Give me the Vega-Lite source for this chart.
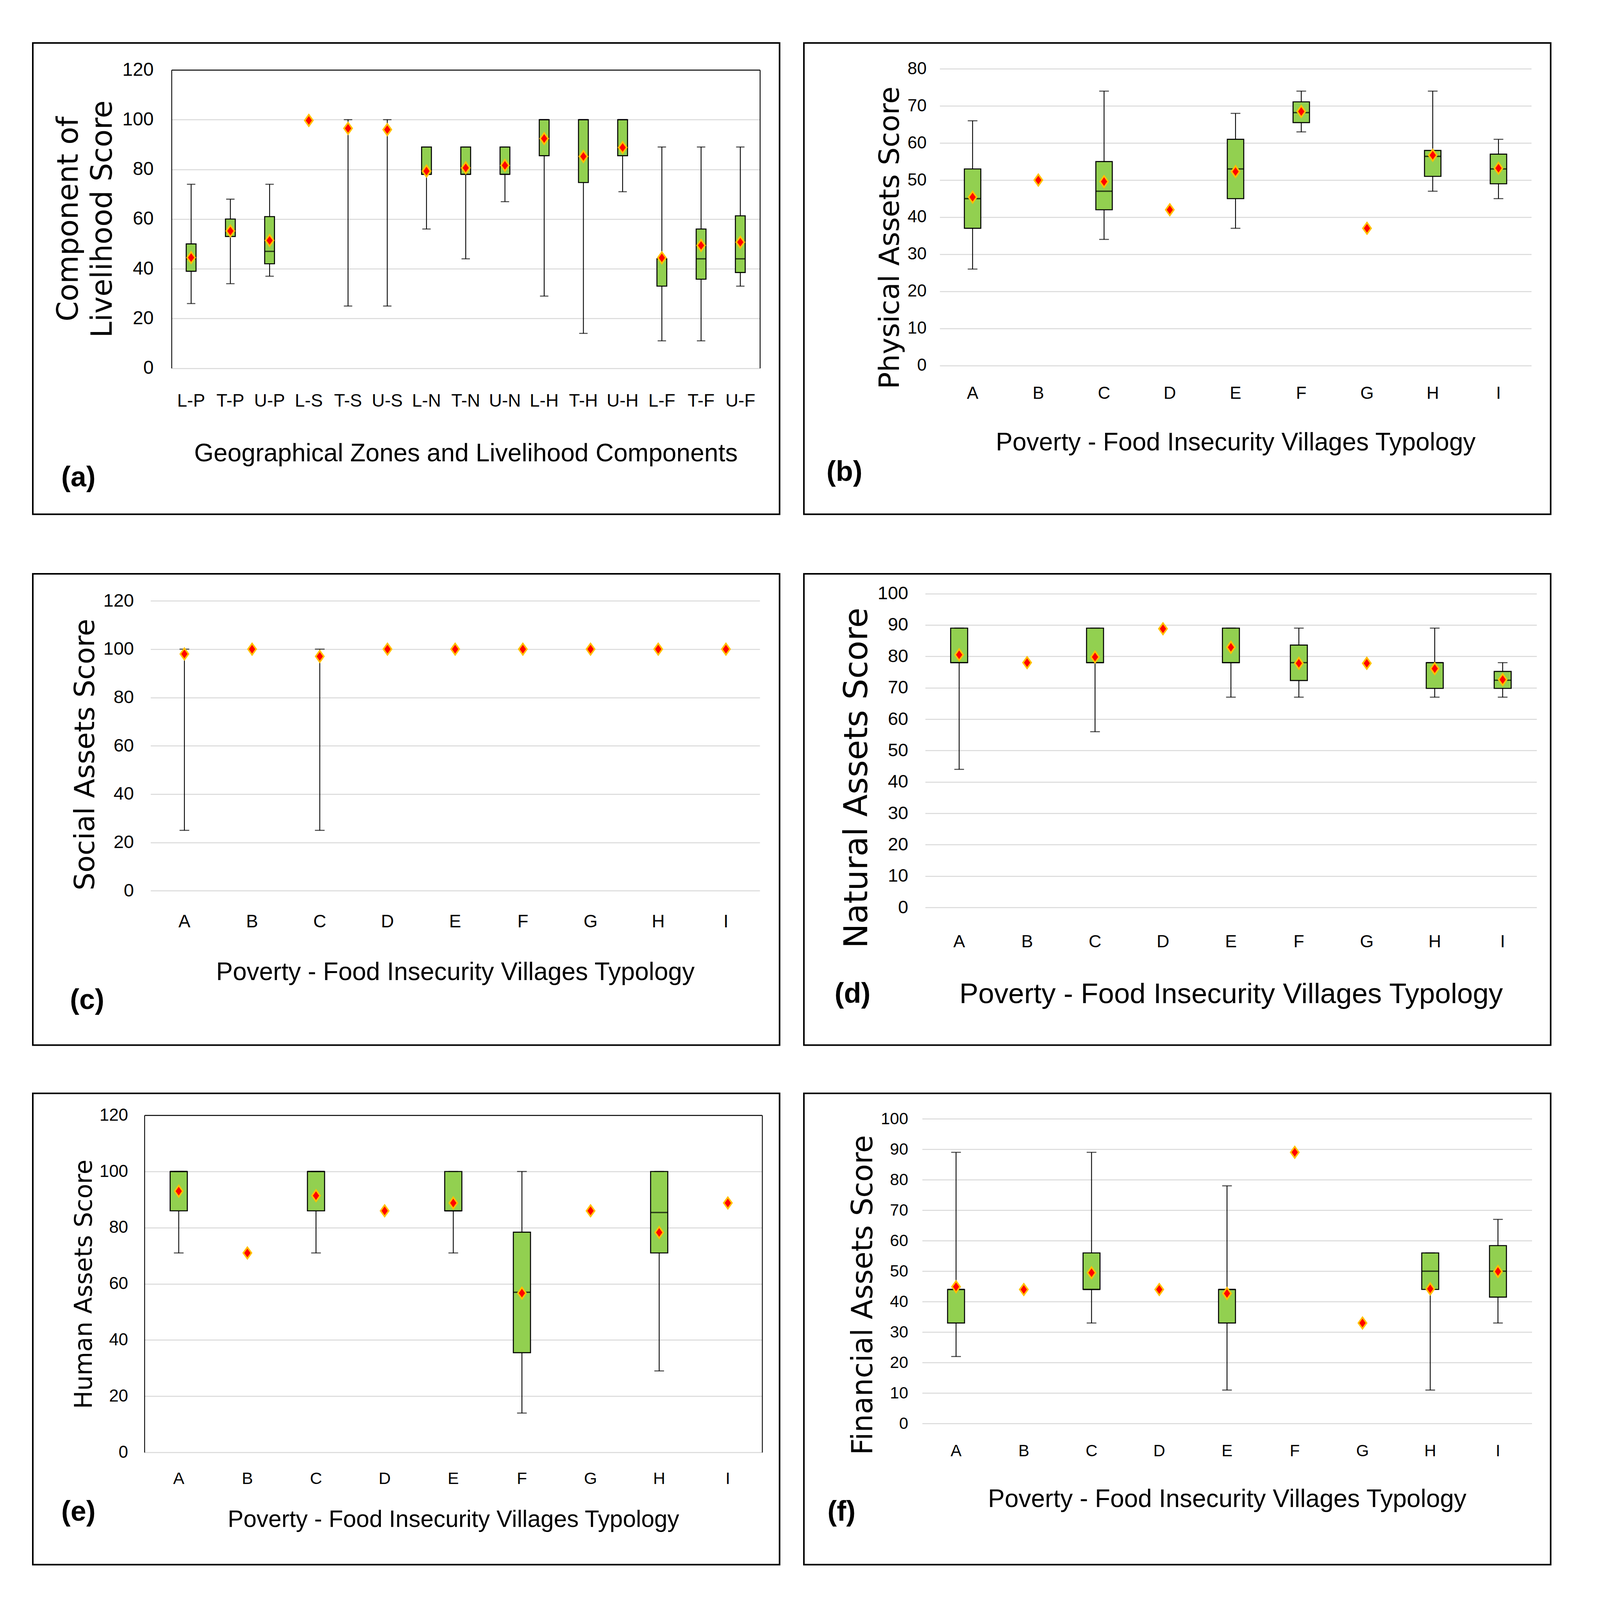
{
"$schema": "https://vega.github.io/schema/vega-lite/v6.json",
"background": "white",
"padding": {"left": 82, "top": 108, "right": 0, "bottom": 0},
"config": {
 "view": {"stroke": "black", "strokeWidth": 4},
 "axis": {"ticks": false, "tickSize": 0, "labelColor": "black", "titleColor": "black", "titleFontWeight": "normal", "gridColor": "#D9D9D9", "gridWidth": 2.6, "domain": false},
 "axisX": {"labelAngle": 0, "labelFont": "Liberation Sans", "titleFont": "Liberation Sans", "grid": false},
 "axisY": {"labelFont": "Liberation Sans", "titleFont": "DejaVu Sans"}
},
"datasets": {
 "a": [
  {"cat":"L-P","min":26,"q1":39,"median":44,"q3":50,"max":74,"mean":44.5},
  {"cat":"T-P","min":34,"q1":53,"median":55,"q3":60,"max":68,"mean":55.2},
  {"cat":"U-P","min":37,"q1":42,"median":47,"q3":61,"max":74,"mean":51.4},
  {"cat":"L-S","min":null,"q1":null,"median":null,"q3":null,"max":null,"mean":99.7},
  {"cat":"T-S","min":25,"q1":null,"median":null,"q3":null,"max":100,"mean":96.5},
  {"cat":"U-S","min":25,"q1":null,"median":null,"q3":null,"max":100,"mean":96},
  {"cat":"L-N","min":56,"q1":78,"median":78,"q3":89,"max":89,"mean":79.3},
  {"cat":"T-N","min":44,"q1":78,"median":78,"q3":89,"max":89,"mean":80.6},
  {"cat":"U-N","min":67,"q1":78,"median":78,"q3":89,"max":89,"mean":81.6},
  {"cat":"L-H","min":29,"q1":85.5,"median":100,"q3":100,"max":100,"mean":92.4},
  {"cat":"T-H","min":14,"q1":74.7,"median":100,"q3":100,"max":100,"mean":85.2},
  {"cat":"U-H","min":71,"q1":85.5,"median":100,"q3":100,"max":100,"mean":88.8},
  {"cat":"L-F","min":11,"q1":33,"median":44,"q3":44,"max":89,"mean":44.4},
  {"cat":"T-F","min":11,"q1":35.8,"median":44,"q3":56,"max":89,"mean":49.4},
  {"cat":"U-F","min":33,"q1":38.5,"median":44,"q3":61.3,"max":89,"mean":50.7}
 ],
 "b": [
  {"cat":"A","min":26,"q1":37,"median":45,"q3":53,"max":66,"mean":45.4},
  {"cat":"B","min":null,"q1":null,"median":null,"q3":null,"max":null,"mean":50},
  {"cat":"C","min":34,"q1":42,"median":47,"q3":55,"max":74,"mean":49.6},
  {"cat":"D","min":null,"q1":null,"median":null,"q3":null,"max":null,"mean":42},
  {"cat":"E","min":37,"q1":45,"median":53,"q3":61,"max":68,"mean":52.3},
  {"cat":"F","min":63,"q1":65.5,"median":68.2,"q3":71.1,"max":74,"mean":68.5},
  {"cat":"G","min":null,"q1":null,"median":null,"q3":null,"max":null,"mean":37},
  {"cat":"H","min":47,"q1":51,"median":56.4,"q3":58,"max":74,"mean":56.7},
  {"cat":"I","min":45,"q1":49,"median":53,"q3":57,"max":61,"mean":53.2}
 ],
 "c": [
  {"cat":"A","min":25,"q1":null,"median":null,"q3":null,"max":100,"mean":98},
  {"cat":"B","min":null,"q1":null,"median":null,"q3":null,"max":null,"mean":100},
  {"cat":"C","min":25,"q1":null,"median":null,"q3":null,"max":100,"mean":97},
  {"cat":"D","min":null,"q1":null,"median":null,"q3":null,"max":null,"mean":100},
  {"cat":"E","min":null,"q1":null,"median":null,"q3":null,"max":null,"mean":100},
  {"cat":"F","min":null,"q1":null,"median":null,"q3":null,"max":null,"mean":100},
  {"cat":"G","min":null,"q1":null,"median":null,"q3":null,"max":null,"mean":100},
  {"cat":"H","min":null,"q1":null,"median":null,"q3":null,"max":null,"mean":100},
  {"cat":"I","min":null,"q1":null,"median":null,"q3":null,"max":null,"mean":100}
 ],
 "d": [
  {"cat":"A","min":44,"q1":78,"median":78,"q3":89,"max":89,"mean":80.5},
  {"cat":"B","min":null,"q1":null,"median":null,"q3":null,"max":null,"mean":78},
  {"cat":"C","min":56,"q1":78,"median":78,"q3":89,"max":89,"mean":79.8},
  {"cat":"D","min":null,"q1":null,"median":null,"q3":null,"max":null,"mean":88.8},
  {"cat":"E","min":67,"q1":78,"median":78,"q3":89,"max":89,"mean":82.9},
  {"cat":"F","min":67,"q1":72.3,"median":78,"q3":83.6,"max":89,"mean":77.8},
  {"cat":"G","min":null,"q1":null,"median":null,"q3":null,"max":null,"mean":77.8},
  {"cat":"H","min":67,"q1":69.8,"median":78,"q3":78,"max":89,"mean":76.1},
  {"cat":"I","min":67,"q1":69.8,"median":72.4,"q3":75.2,"max":78,"mean":72.6}
 ],
 "e": [
  {"cat":"A","min":71,"q1":86,"median":100,"q3":100,"max":100,"mean":93},
  {"cat":"B","min":null,"q1":null,"median":null,"q3":null,"max":null,"mean":71},
  {"cat":"C","min":71,"q1":86,"median":100,"q3":100,"max":100,"mean":91.4},
  {"cat":"D","min":null,"q1":null,"median":null,"q3":null,"max":null,"mean":86},
  {"cat":"E","min":71,"q1":86,"median":86,"q3":100,"max":100,"mean":88.8},
  {"cat":"F","min":14,"q1":35.5,"median":57,"q3":78.4,"max":100,"mean":56.7},
  {"cat":"G","min":null,"q1":null,"median":null,"q3":null,"max":null,"mean":86},
  {"cat":"H","min":29,"q1":71,"median":85.4,"q3":100,"max":100,"mean":78.3},
  {"cat":"I","min":null,"q1":null,"median":null,"q3":null,"max":null,"mean":88.8}
 ],
 "f": [
  {"cat":"A","min":22,"q1":33,"median":44,"q3":44,"max":89,"mean":44.9},
  {"cat":"B","min":null,"q1":null,"median":null,"q3":null,"max":null,"mean":44},
  {"cat":"C","min":33,"q1":44,"median":44,"q3":56,"max":89,"mean":49.5},
  {"cat":"D","min":null,"q1":null,"median":null,"q3":null,"max":null,"mean":44},
  {"cat":"E","min":11,"q1":33,"median":44,"q3":44,"max":78,"mean":42.7},
  {"cat":"F","min":null,"q1":null,"median":null,"q3":null,"max":null,"mean":89},
  {"cat":"G","min":null,"q1":null,"median":null,"q3":null,"max":null,"mean":33},
  {"cat":"H","min":11,"q1":44,"median":50,"q3":56,"max":56,"mean":44.2},
  {"cat":"I","min":33,"q1":41.5,"median":50,"q3":58.4,"max":67,"mean":49.9}
 ]
},
"vconcat": [
 {"hconcat": [
  {"width": 1911.7, "height": 1206.4, "data": {"name": "a"},
   "title": {"text": "(a)", "orient": "bottom", "anchor": "start", "frame": "group", "offset": -71.9, "dx": 72.7, "baseline": "alphabetic", "font": "Liberation Sans", "fontSize": 72, "fontWeight": "bold", "color": "black"},
   "resolve": {"axis": {"y": "independent"}},
   "layer": [
    {"mark": {"type": "rule", "color": "black", "strokeWidth": 2.2},
     "encoding": {
      "x": {"field": "cat", "type": "nominal", "scale": {"type": "band", "domain": ["L-P","T-P","U-P","L-S","T-S","U-S","L-N","T-N","U-N","L-H","T-H","U-H","L-F","T-F","U-F"], "range": [355.1, 1861.4], "paddingInner": 0, "paddingOuter": 0},
            "axis": {"offset": -373.9, "labelFontSize": 46, "labelPadding": 62, "title": "Geographical Zones and Livelihood Components", "titleFontSize": 64.2, "titleBaseline": "alphabetic", "titleY": 237.6}},
      "y": {"field": "min", "type": "quantitative", "scale": {"domain": [0, 120], "range": [832.5, 69.1], "nice": false, "zero": false},
            "axis": {"offset": -355.1, "values": [0,20,40,60,80,100,120], "grid": true, "gridColor": {"condition": {"test": "datum.value === 120", "value": "black"}, "value": "#D9D9D9"}, "domain": true, "domainColor": "black", "domainWidth": 2.2, "labelFontSize": 48, "labelPadding": 46.2, "title": ["Component of", "Livelihood Score"], "titleFontSize": 74, "titleLineHeight": 86.7, "titleBaseline": "alphabetic", "titleX": -240.3, "titleY": 450.3}},
      "y2": {"field": "max"}}},
    {"mark": {"type": "bar", "width": {"band": 0.25}, "fill": "#92D050", "stroke": "black", "strokeWidth": 2.6},
     "encoding": {"x": {"field": "cat", "type": "nominal"}, "y": {"field": "q1", "type": "quantitative", "axis": null}, "y2": {"field": "q3"}}},
    {"mark": {"type": "tick", "color": "black", "size": 24.8, "thickness": 3.4},
     "encoding": {"x": {"field": "cat", "type": "nominal"}, "y": {"field": "median", "type": "quantitative", "axis": null}}},
    {"mark": {"type": "tick", "color": "black", "size": 21.5, "thickness": 2.6},
     "encoding": {"x": {"field": "cat", "type": "nominal"}, "y": {"field": "min", "type": "quantitative", "axis": null}}},
    {"mark": {"type": "tick", "color": "black", "size": 21.5, "thickness": 2.6},
     "encoding": {"x": {"field": "cat", "type": "nominal"}, "y": {"field": "max", "type": "quantitative", "axis": null}}},
    {"mark": {"type": "point", "shape": "M0,-1L0.72,0L0,1L-0.72,0Z", "size": 841, "filled": true, "fill": "#FF0000", "stroke": "#FFC000", "strokeWidth": 4, "opacity": 1},
     "encoding": {"x": {"field": "cat", "type": "nominal"}, "y": {"field": "mean", "type": "quantitative", "axis": {"orient": "right", "offset": -50.3, "domain": true, "domainColor": "black", "domainWidth": 2.2, "labels": false, "grid": false, "title": null}}}}
   ]},
  {"width": 1911.7, "height": 1206.4, "data": {"name": "b"},
   "title": {"text": "(b)", "orient": "bottom", "anchor": "start", "frame": "group", "offset": -85.7, "dx": 57.8, "baseline": "alphabetic", "font": "Liberation Sans", "fontSize": 72, "fontWeight": "bold", "color": "black"},
   "layer": [
    {"mark": {"type": "rule", "color": "black", "strokeWidth": 2.2},
     "encoding": {
      "x": {"field": "cat", "type": "nominal", "scale": {"type": "band", "domain": ["A","B","C","D","E","F","G","H","I"], "range": [347.7, 1862.2], "paddingInner": 0, "paddingOuter": 0},
            "axis": {"offset": -380.8, "labelFontSize": 44, "labelPadding": 50, "title": "Poverty - Food Insecurity Villages Typology", "titleFontSize": 64.2, "titleBaseline": "alphabetic", "titleY": 216.9}},
      "y": {"field": "min", "type": "quantitative", "scale": {"domain": [0, 80], "range": [825.6, 66.3], "nice": false, "zero": false},
            "axis": {"offset": -347.7, "values": [0,10,20,30,40,50,60,70,80], "grid": true, "labelFontSize": 44, "labelPadding": 33.9, "title": "Physical Assets Score", "titleFontSize": 72, "titleBaseline": "alphabetic", "titleX": -105.7, "titleY": 498.2}},
      "y2": {"field": "max"}}},
    {"mark": {"type": "bar", "width": {"band": 0.25}, "fill": "#92D050", "stroke": "black", "strokeWidth": 2.6},
     "encoding": {"x": {"field": "cat", "type": "nominal"}, "y": {"field": "q1", "type": "quantitative"}, "y2": {"field": "q3"}}},
    {"mark": {"type": "tick", "color": "black", "size": 42, "thickness": 3.4},
     "encoding": {"x": {"field": "cat", "type": "nominal"}, "y": {"field": "median", "type": "quantitative"}}},
    {"mark": {"type": "tick", "color": "black", "size": 24.8, "thickness": 2.6},
     "encoding": {"x": {"field": "cat", "type": "nominal"}, "y": {"field": "min", "type": "quantitative"}}},
    {"mark": {"type": "tick", "color": "black", "size": 24.8, "thickness": 2.6},
     "encoding": {"x": {"field": "cat", "type": "nominal"}, "y": {"field": "max", "type": "quantitative"}}},
    {"mark": {"type": "point", "shape": "M0,-1L0.72,0L0,1L-0.72,0Z", "size": 841, "filled": true, "fill": "#FF0000", "stroke": "#FFC000", "strokeWidth": 4, "opacity": 1},
     "encoding": {"x": {"field": "cat", "type": "nominal"}, "y": {"field": "mean", "type": "quantitative"}}}
   ]}
 ], "spacing": 58},
 {"vconcat": [
  {"hconcat": [
   {"width": 1911.7, "height": 1206.4, "data": {"name": "c"},
    "title": {"text": "(c)", "orient": "bottom", "anchor": "start", "frame": "group", "offset": -92.1, "dx": 95, "baseline": "alphabetic", "font": "Liberation Sans", "fontSize": 72, "fontWeight": "bold", "color": "black"},
    "layer": [
     {"mark": {"type": "rule", "color": "black", "strokeWidth": 2.2},
      "encoding": {
       "x": {"field": "cat", "type": "nominal", "scale": {"type": "band", "domain": ["A","B","C","D","E","F","G","H","I"], "range": [301.4, 1861.0], "paddingInner": 0, "paddingOuter": 0},
             "axis": {"offset": -395.1, "labelFontSize": 46, "labelPadding": 57.4, "title": "Poverty - Food Insecurity Villages Typology", "titleFontSize": 64, "titleBaseline": "alphabetic", "titleY": 228.4}},
       "y": {"field": "min", "type": "quantitative", "scale": {"domain": [0, 120], "range": [811.3, 69.1], "nice": false, "zero": false},
             "axis": {"offset": -301.4, "values": [0,20,40,60,80,100,120], "grid": true, "labelFontSize": 47, "labelPadding": 42.9, "title": "Social Assets Score", "titleFontSize": 72, "titleBaseline": "alphabetic", "titleX": -144.5, "titleY": 462.3}},
       "y2": {"field": "max"}}},
     {"mark": {"type": "bar", "width": {"band": 0.25}, "fill": "#92D050", "stroke": "black", "strokeWidth": 2.6},
      "encoding": {"x": {"field": "cat", "type": "nominal"}, "y": {"field": "q1", "type": "quantitative"}, "y2": {"field": "q3"}}},
     {"mark": {"type": "tick", "color": "black", "size": 43, "thickness": 3.4},
      "encoding": {"x": {"field": "cat", "type": "nominal"}, "y": {"field": "median", "type": "quantitative"}}},
     {"mark": {"type": "tick", "color": "black", "size": 24.8, "thickness": 2.6},
      "encoding": {"x": {"field": "cat", "type": "nominal"}, "y": {"field": "min", "type": "quantitative"}}},
     {"mark": {"type": "tick", "color": "black", "size": 24.8, "thickness": 2.6},
      "encoding": {"x": {"field": "cat", "type": "nominal"}, "y": {"field": "max", "type": "quantitative"}}},
     {"mark": {"type": "point", "shape": "M0,-1L0.72,0L0,1L-0.72,0Z", "size": 841, "filled": true, "fill": "#FF0000", "stroke": "#FFC000", "strokeWidth": 4, "opacity": 1},
      "encoding": {"x": {"field": "cat", "type": "nominal"}, "y": {"field": "mean", "type": "quantitative"}}}
    ]},
   {"width": 1911.7, "height": 1206.4, "data": {"name": "d"},
    "title": {"text": "(d)", "orient": "bottom", "anchor": "start", "frame": "group", "offset": -108.7, "dx": 78.5, "baseline": "alphabetic", "font": "Liberation Sans", "fontSize": 72, "fontWeight": "bold", "color": "black"},
    "layer": [
     {"mark": {"type": "rule", "color": "black", "strokeWidth": 2.2},
      "encoding": {
       "x": {"field": "cat", "type": "nominal", "scale": {"type": "band", "domain": ["A","B","C","D","E","F","G","H","I"], "range": [310.5, 1875.8], "paddingInner": 0, "paddingOuter": 0},
             "axis": {"offset": -352.3, "labelFontSize": 45, "labelPadding": 65.3, "title": "Poverty - Food Insecurity Villages Typology", "titleFontSize": 72.7, "titleBaseline": "alphabetic", "titleY": 244.5}},
       "y": {"field": "min", "type": "quantitative", "scale": {"domain": [0, 100], "range": [854.1, 50.6], "nice": false, "zero": false},
             "axis": {"offset": -310.5, "values": [0,10,20,30,40,50,60,70,80,90,100], "grid": true, "labelFontSize": 47, "labelPadding": 43.8, "title": "Natural Assets Score", "titleFontSize": 84, "titleBaseline": "alphabetic", "titleX": -148.6, "titleY": 522.1}},
       "y2": {"field": "max"}}},
     {"mark": {"type": "bar", "width": {"band": 0.25}, "fill": "#92D050", "stroke": "black", "strokeWidth": 2.6},
      "encoding": {"x": {"field": "cat", "type": "nominal"}, "y": {"field": "q1", "type": "quantitative"}, "y2": {"field": "q3"}}},
     {"mark": {"type": "tick", "color": "black", "size": 43, "thickness": 3.4},
      "encoding": {"x": {"field": "cat", "type": "nominal"}, "y": {"field": "median", "type": "quantitative"}}},
     {"mark": {"type": "tick", "color": "black", "size": 24.8, "thickness": 2.6},
      "encoding": {"x": {"field": "cat", "type": "nominal"}, "y": {"field": "min", "type": "quantitative"}}},
     {"mark": {"type": "tick", "color": "black", "size": 24.8, "thickness": 2.6},
      "encoding": {"x": {"field": "cat", "type": "nominal"}, "y": {"field": "max", "type": "quantitative"}}},
     {"mark": {"type": "point", "shape": "M0,-1L0.72,0L0,1L-0.72,0Z", "size": 841, "filled": true, "fill": "#FF0000", "stroke": "#FFC000", "strokeWidth": 4, "opacity": 1},
      "encoding": {"x": {"field": "cat", "type": "nominal"}, "y": {"field": "mean", "type": "quantitative"}}}
    ]}
  ], "spacing": 58},
  {"hconcat": [
   {"width": 1911.7, "height": 1206.4, "data": {"name": "e"},
    "title": {"text": "(e)", "orient": "bottom", "anchor": "start", "frame": "group", "offset": -112.4, "dx": 72.7, "baseline": "alphabetic", "font": "Liberation Sans", "fontSize": 72, "fontWeight": "bold", "color": "black"},
    "resolve": {"axis": {"y": "independent"}},
    "layer": [
     {"mark": {"type": "rule", "color": "black", "strokeWidth": 2.2},
      "encoding": {
       "x": {"field": "cat", "type": "nominal", "scale": {"type": "band", "domain": ["A","B","C","D","E","F","G","H","I"], "range": [285.7, 1867.1], "paddingInner": 0, "paddingOuter": 0},
             "axis": {"offset": -287.3, "labelFontSize": 43, "labelPadding": 46.5, "title": "Poverty - Food Insecurity Villages Typology", "titleFontSize": 60.4, "titleBaseline": "alphabetic", "titleY": 190.4}},
       "y": {"field": "min", "type": "quantitative", "scale": {"domain": [0, 120], "range": [919.1, 56.2], "nice": false, "zero": false},
             "axis": {"offset": -285.7, "values": [0,20,40,60,80,100,120], "grid": true, "gridColor": {"condition": {"test": "datum.value === 120", "value": "black"}, "value": "#D9D9D9"}, "domain": true, "domainColor": "black", "domainWidth": 2.2, "labelFontSize": 44, "labelPadding": 42.1, "title": "Human Assets Score", "titleFontSize": 62, "titleBaseline": "alphabetic", "titleX": -135.4, "titleY": 488.1}},
       "y2": {"field": "max"}}},
     {"mark": {"type": "bar", "width": {"band": 0.25}, "fill": "#92D050", "stroke": "black", "strokeWidth": 2.6},
      "encoding": {"x": {"field": "cat", "type": "nominal"}, "y": {"field": "q1", "type": "quantitative", "axis": null}, "y2": {"field": "q3"}}},
     {"mark": {"type": "tick", "color": "black", "size": 43.5, "thickness": 3.4},
      "encoding": {"x": {"field": "cat", "type": "nominal"}, "y": {"field": "median", "type": "quantitative", "axis": null}}},
     {"mark": {"type": "tick", "color": "black", "size": 24.8, "thickness": 2.6},
      "encoding": {"x": {"field": "cat", "type": "nominal"}, "y": {"field": "min", "type": "quantitative", "axis": null}}},
     {"mark": {"type": "tick", "color": "black", "size": 24.8, "thickness": 2.6},
      "encoding": {"x": {"field": "cat", "type": "nominal"}, "y": {"field": "max", "type": "quantitative", "axis": null}}},
     {"mark": {"type": "point", "shape": "M0,-1L0.72,0L0,1L-0.72,0Z", "size": 841, "filled": true, "fill": "#FF0000", "stroke": "#FFC000", "strokeWidth": 4, "opacity": 1},
      "encoding": {"x": {"field": "cat", "type": "nominal"}, "y": {"field": "mean", "type": "quantitative", "axis": {"orient": "right", "offset": -44.6, "domain": true, "domainColor": "black", "domainWidth": 2.2, "labels": false, "grid": false, "title": null}}}}
    ]},
   {"width": 1911.7, "height": 1206.4, "data": {"name": "f"},
    "title": {"text": "(f)", "orient": "bottom", "anchor": "start", "frame": "group", "offset": -112.4, "dx": 60.3, "baseline": "alphabetic", "font": "Liberation Sans", "fontSize": 72, "fontWeight": "bold", "color": "black"},
    "layer": [
     {"mark": {"type": "rule", "color": "black", "strokeWidth": 2.2},
      "encoding": {
       "x": {"field": "cat", "type": "nominal", "scale": {"type": "band", "domain": ["A","B","C","D","E","F","G","H","I"], "range": [302.8, 1863.5], "paddingInner": 0, "paddingOuter": 0},
             "axis": {"offset": -361, "labelFontSize": 42, "labelPadding": 50, "title": "Poverty - Food Insecurity Villages Typology", "titleFontSize": 64, "titleBaseline": "alphabetic", "titleY": 213.3}},
       "y": {"field": "min", "type": "quantitative", "scale": {"domain": [0, 100], "range": [845.4, 65.1], "nice": false, "zero": false},
             "axis": {"offset": -302.8, "values": [0,10,20,30,40,50,60,70,80,90,100], "grid": true, "labelFontSize": 42, "labelPadding": 36.3, "title": "Financial Assets Score", "titleFontSize": 74, "titleBaseline": "alphabetic", "titleX": -128.8, "titleY": 515.7}},
       "y2": {"field": "max"}}},
     {"mark": {"type": "bar", "width": {"band": 0.25}, "fill": "#92D050", "stroke": "black", "strokeWidth": 2.6},
      "encoding": {"x": {"field": "cat", "type": "nominal"}, "y": {"field": "q1", "type": "quantitative"}, "y2": {"field": "q3"}}},
     {"mark": {"type": "tick", "color": "black", "size": 43, "thickness": 3.4},
      "encoding": {"x": {"field": "cat", "type": "nominal"}, "y": {"field": "median", "type": "quantitative"}}},
     {"mark": {"type": "tick", "color": "black", "size": 24.8, "thickness": 2.6},
      "encoding": {"x": {"field": "cat", "type": "nominal"}, "y": {"field": "min", "type": "quantitative"}}},
     {"mark": {"type": "tick", "color": "black", "size": 24.8, "thickness": 2.6},
      "encoding": {"x": {"field": "cat", "type": "nominal"}, "y": {"field": "max", "type": "quantitative"}}},
     {"mark": {"type": "point", "shape": "M0,-1L0.72,0L0,1L-0.72,0Z", "size": 841, "filled": true, "fill": "#FF0000", "stroke": "#FFC000", "strokeWidth": 4, "opacity": 1},
      "encoding": {"x": {"field": "cat", "type": "nominal"}, "y": {"field": "mean", "type": "quantitative"}}}
    ]}
  ], "spacing": 58}
 ], "spacing": 119}
], "spacing": 148
}
